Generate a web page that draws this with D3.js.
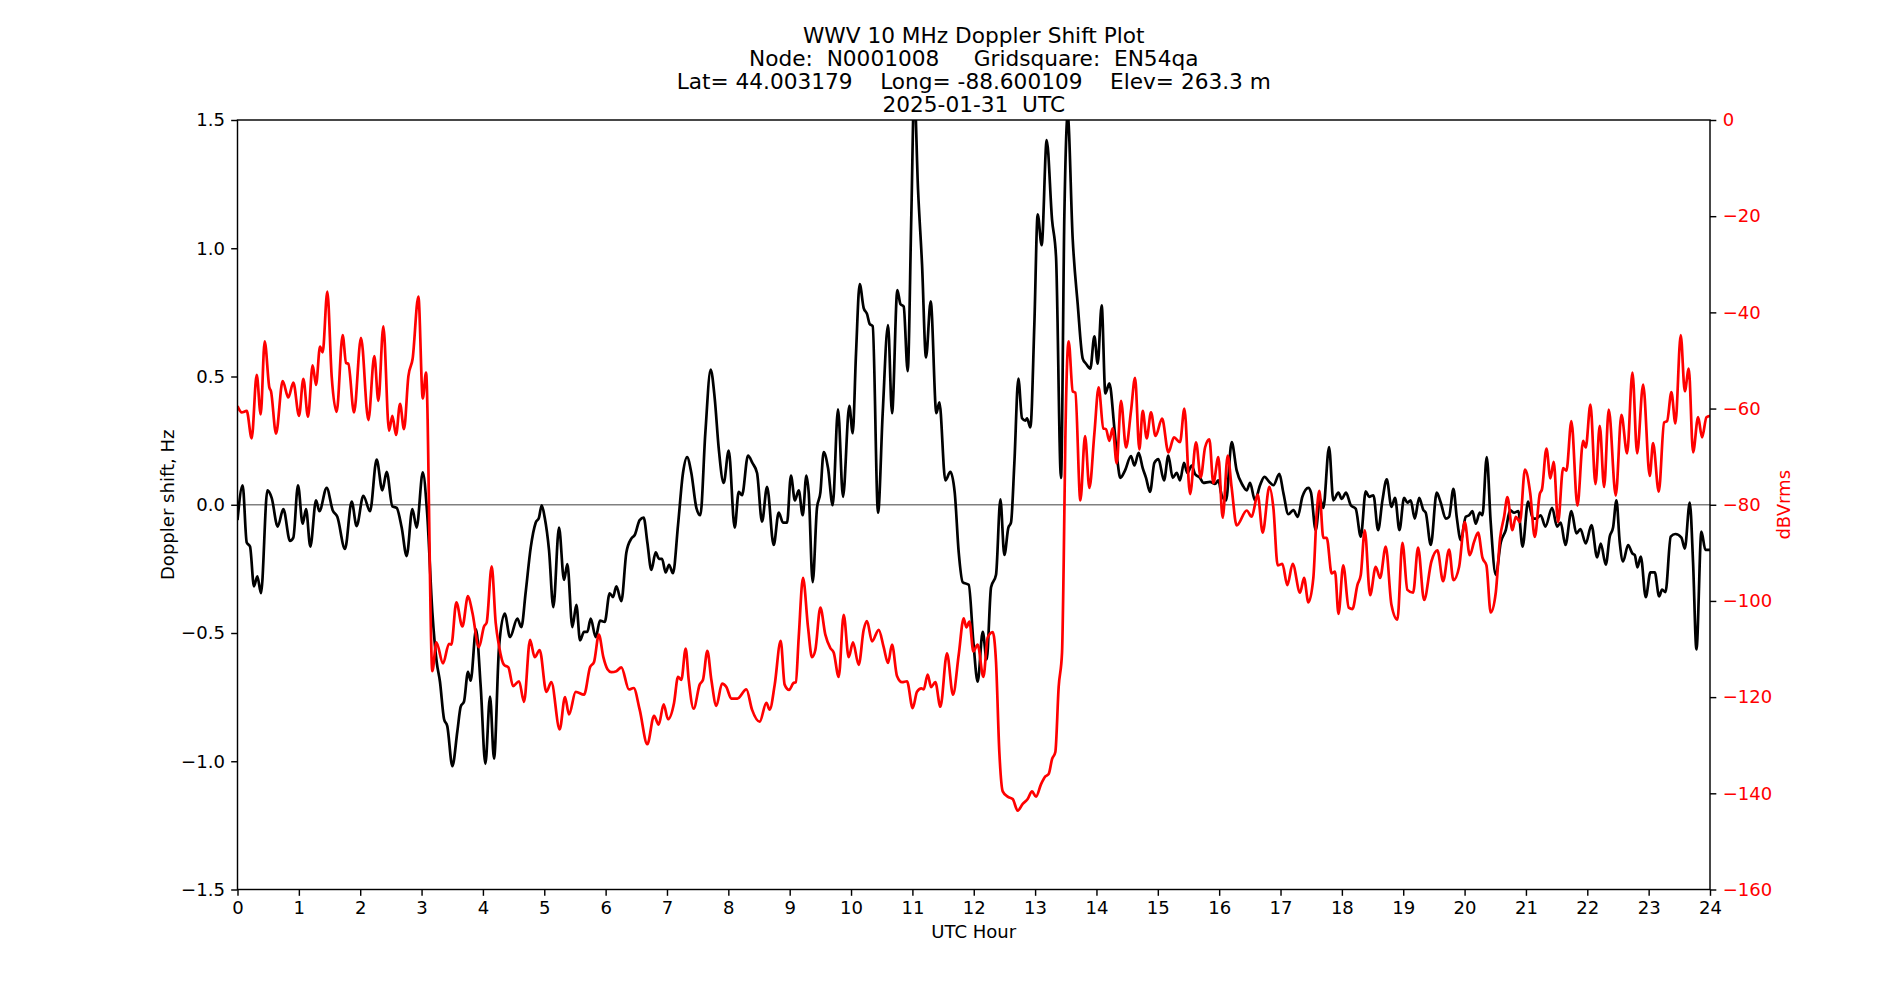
<!DOCTYPE html>
<html>
<head>
<meta charset="utf-8">
<script src="https://cdn.jsdelivr.net/npm/d3@7"></script>
<style>
  html, body { margin: 0; padding: 0; background: #fff; }
  svg { display: block; }
  text { font-family: "DejaVu Sans", sans-serif; }
</style>
</head>
<body>
<svg id="chart" width="1900" height="1000"></svg>
<script>
// ---------------- DATA ----------------
const titleLines = [
  "WWV 10 MHz Doppler Shift Plot",
  "Node:  N0001008     Gridsquare:  EN54qa",
  "Lat= 44.003179    Long= -88.600109    Elev= 263.3 m",
  "2025-01-31  UTC"
];
const xTicks = [0,1,2,3,4,5,6,7,8,9,10,11,12,13,14,15,16,17,18,19,20,21,22,23,24];
const leftTicks = [-1.5,-1.0,-0.5,0.0,0.5,1.0,1.5];
const rightTicks = [0,-20,-40,-60,-80,-100,-120,-140,-160];

// Doppler shift (Hz), black line
const dopplerHours = [
0.00,0.084,0.15,0.204,0.269,0.323,0.383,0.487,0.557,0.655,0.747,0.856,0.91,0.986,1.062,1.117,1.187,1.28,1.334,1.454,
1.551,1.627,1.752,1.861,1.942,2.051,2.16,2.268,2.361,2.431,2.524,2.594,2.676,2.757,2.85,2.92,3.02,3.09,3.176,3.246,
3.30,3.366,3.42,3.502,3.583,3.638,3.692,3.757,3.80,3.888,3.964,4.04,4.116,4.181,4.263,4.355,4.442,4.561,4.626,4.697,
4.779,4.86,4.914,4.958,5.007,5.077,5.148,5.24,5.322,5.376,5.458,5.523,5.583,5.648,5.702,5.757,5.838,5.909,5.985,6.066,
6.12,6.175,6.256,6.338,6.419,6.474,6.555,6.62,6.68,6.745,6.816,6.87,6.919,6.979,7.033,7.098,7.18,7.261,7.327,7.397,
7.479,7.544,7.625,7.712,7.778,7.843,7.924,8.006,8.104,8.169,8.223,8.321,8.392,8.468,8.549,8.631,8.739,8.821,8.892,8.957,
9.02,9.085,9.147,9.212,9.272,9.31,9.375,9.445,9.50,9.554,9.625,9.701,9.788,9.869,9.972,10.027,10.081,10.141,10.206,10.26,
10.304,10.353,10.44,10.516,10.603,10.668,10.755,10.804,10.858,10.923,10.983,11.03,11.092,11.157,11.222,11.298,11.391,11.44,11.537,11.619,
11.69,11.755,11.82,11.918,11.994,12.064,12.146,12.211,12.282,12.363,12.434,12.499,12.564,12.607,12.662,12.727,12.787,12.841,12.868,12.923,
12.988,13.042,13.107,13.189,13.276,13.341,13.422,13.477,13.531,13.613,13.694,13.776,13.83,13.9,13.966,14.02,14.085,14.145,14.21,14.292,
14.346,14.389,14.466,14.563,14.618,14.688,14.754,14.808,14.873,14.944,15.01,15.101,15.172,15.242,15.308,15.362,15.427,15.482,15.552,15.606,
15.688,15.742,15.851,15.932,15.987,16.041,16.112,16.204,16.285,16.383,16.449,16.503,16.584,16.666,16.737,16.818,16.884,16.981,17.046,17.128,
17.209,17.28,17.356,17.454,17.497,17.573,17.644,17.698,17.791,17.861,17.943,17.997,18.068,18.145,18.226,18.308,18.389,18.443,18.514,18.59,
18.661,18.731,18.808,18.867,18.938,19.014,19.068,19.122,19.188,19.259,19.329,19.367,19.449,19.546,19.612,19.693,19.747,19.818,19.873,19.938,
20.019,20.073,20.128,20.182,20.247,20.291,20.361,20.426,20.508,20.59,20.671,20.742,20.807,20.877,20.945,21.035,21.116,21.171,21.241,21.317,
21.426,21.508,21.567,21.643,21.741,21.823,21.888,21.975,22.068,22.16,22.22,22.301,22.366,22.42,22.475,22.529,22.583,22.665,22.736,22.774,
22.817,22.872,22.953,23.029,23.1,23.17,23.219,23.274,23.36,23.436,23.534,23.589,23.67,23.724,23.779,23.86,23.925,24.0
];
const dopplerShift = [
-0.06,0.076,-0.147,-0.163,-0.318,-0.279,-0.345,0.056,0.027,-0.085,-0.017,-0.141,-0.128,0.076,-0.074,-0.017,-0.163,0.017,-0.025,0.066,
-0.021,-0.047,-0.172,0.012,-0.083,0.035,-0.025,0.176,0.056,0.128,-0.006,-0.012,-0.089,-0.2,-0.017,-0.089,0.126,-0.03,-0.419,-0.612,
-0.69,-0.835,-0.864,-1.019,-0.884,-0.787,-0.767,-0.651,-0.686,-0.486,-0.709,-1.01,-0.748,-0.99,-0.554,-0.424,-0.516,-0.444,-0.477,-0.341,
-0.167,-0.07,-0.05,-0.002,-0.05,-0.176,-0.399,-0.089,-0.293,-0.231,-0.477,-0.39,-0.529,-0.496,-0.496,-0.444,-0.516,-0.452,-0.457,-0.345,
-0.36,-0.318,-0.376,-0.186,-0.132,-0.118,-0.06,-0.05,-0.147,-0.254,-0.186,-0.211,-0.211,-0.264,-0.234,-0.267,-0.079,0.124,0.186,0.124,
-0.012,-0.041,0.279,0.527,0.415,0.221,0.085,0.211,-0.089,0.05,0.037,0.192,0.163,0.124,-0.066,0.07,-0.157,-0.031,-0.07,-0.07,
0.114,0.017,0.056,-0.041,0.114,0.047,-0.302,-0.012,0.047,0.205,0.143,-0.002,0.372,0.031,0.386,0.279,0.589,0.86,0.767,0.744,
0.705,0.696,-0.031,0.357,0.7,0.357,0.837,0.783,0.773,0.521,1.132,1.62,1.229,0.938,0.574,0.793,0.357,0.399,0.095,0.128,
0.047,-0.186,-0.302,-0.312,-0.535,-0.69,-0.496,-0.603,-0.322,-0.273,0.021,-0.196,-0.089,-0.07,0.163,0.492,0.337,0.328,0.337,0.302,
0.705,1.132,1.012,1.422,1.112,0.967,0.105,1.132,1.52,1.035,0.783,0.57,0.55,0.531,0.657,0.55,0.777,0.434,0.473,0.298,
0.163,0.105,0.134,0.19,0.153,0.202,0.143,0.105,0.05,0.163,0.178,0.095,0.192,0.105,0.124,0.095,0.163,0.124,0.153,0.12,
0.105,0.085,0.089,0.081,0.095,0.037,0.017,0.244,0.134,0.076,0.056,0.085,0.017,0.076,0.109,0.089,0.076,0.12,0.047,-0.037,
-0.021,-0.047,0.031,0.066,0.047,-0.099,0.021,-0.012,0.225,0.017,0.047,0.023,0.047,-0.002,-0.016,-0.124,0.052,0.031,0.037,-0.099,
0.017,0.099,-0.008,0.027,-0.099,0.027,0.008,0.017,-0.054,0.027,-0.021,-0.031,-0.157,0.047,0.008,-0.054,-0.047,0.062,-0.05,-0.138,
-0.047,-0.041,-0.025,-0.074,-0.031,-0.041,0.186,-0.07,-0.273,-0.147,-0.099,-0.021,-0.031,-0.025,-0.163,0.012,-0.054,-0.054,-0.041,-0.085,
-0.012,-0.085,-0.07,-0.157,-0.025,-0.112,-0.095,-0.151,-0.079,-0.205,-0.151,-0.234,-0.124,-0.089,0.017,-0.147,-0.221,-0.157,-0.19,-0.196,
-0.244,-0.202,-0.36,-0.264,-0.264,-0.357,-0.331,-0.341,-0.124,-0.114,-0.128,-0.171,0.008,-0.225,-0.564,-0.105,-0.176,-0.176
];

// Signal level (dBVrms), red line
const levelHours = [
0.00,0.068,0.15,0.231,0.313,0.378,0.443,0.519,0.546,0.628,0.736,0.829,0.91,1.003,1.073,1.149,1.225,1.28,1.345,1.388,
1.464,1.535,1.616,1.714,1.769,1.807,1.899,2.013,2.133,2.23,2.296,2.377,2.47,2.524,2.584,2.649,2.714,2.785,2.855,2.948,
3.02,3.073,3.176,3.241,3.35,3.447,3.485,3.567,3.665,3.757,3.828,3.936,4.018,4.061,4.143,4.208,4.263,4.344,4.415,4.491,
4.589,4.67,4.768,4.844,4.925,5.034,5.115,5.251,5.338,5.403,5.512,5.648,5.746,5.811,5.89,5.963,6.03,6.093,6.175,6.256,
6.381,6.457,6.555,6.68,6.789,6.865,6.946,7.017,7.115,7.18,7.234,7.305,7.354,7.435,7.533,7.587,7.658,7.723,7.805,7.897,
7.968,8.049,8.147,8.294,8.386,8.511,8.62,8.674,8.756,8.853,8.918,8.99,9.06,9.10,9.147,9.217,9.299,9.364,9.418,9.5,
9.581,9.663,9.717,9.799,9.88,9.962,10.032,10.125,10.206,10.26,10.342,10.451,10.532,10.603,10.668,10.749,10.831,10.912,11.005,11.075,
11.146,11.184,11.249,11.304,11.374,11.456,11.564,11.662,11.755,11.836,11.879,11.93,11.994,12.064,12.157,12.227,12.309,12.363,12.417,12.472,
12.553,12.635,12.716,12.798,12.879,12.95,13.015,13.097,13.167,13.221,13.276,13.33,13.384,13.439,13.466,13.493,13.547,13.613,13.656,13.738,
13.814,13.885,13.966,14.036,14.112,14.156,14.21,14.264,14.33,14.4,14.482,14.563,14.629,14.699,14.754,14.819,14.889,14.962,15.07,15.172,
15.264,15.362,15.433,15.525,15.623,15.699,15.77,15.84,15.905,15.987,16.057,16.139,16.204,16.285,16.449,16.53,16.628,16.709,16.818,16.884,
16.954,17.03,17.111,17.198,17.318,17.383,17.454,17.535,17.59,17.633,17.698,17.753,17.834,17.888,17.945,18.022,18.112,18.172,18.253,18.308,
18.373,18.46,18.552,18.623,18.715,18.808,18.905,18.987,19.068,19.161,19.242,19.34,19.459,19.557,19.65,19.747,19.818,19.911,20.003,20.084,
20.155,20.22,20.291,20.356,20.426,20.508,20.579,20.644,20.698,20.779,20.834,20.902,20.984,21.07,21.144,21.225,21.263,21.334,21.399,21.453,
21.524,21.606,21.66,21.741,21.839,21.932,21.975,22.051,22.133,22.203,22.274,22.35,22.464,22.556,22.649,22.736,22.812,22.91,23.018,23.072,
23.165,23.252,23.301,23.371,23.436,23.523,23.589,23.654,23.724,23.806,23.871,23.942,24.0
];
const levelDb = [
-59.5,-60.8,-60.5,-66.2,-53,-61.2,-46,-55.6,-56.4,-65.2,-54.3,-57.7,-54.6,-61.5,-53.8,-61.7,-51,-55.1,-47.1,-48.3,
-35.7,-53.3,-60.7,-44.7,-50.5,-50.7,-60.8,-45.3,-62.4,-49.1,-58.4,-42.9,-64.6,-61.5,-65.5,-59,-64.3,-53.3,-49.6,-36.7,
-57.9,-52.5,-114.6,-108.6,-113,-108.9,-109.1,-100.3,-105.3,-99,-102.4,-109.6,-105.3,-104.5,-92.8,-104.5,-109.4,-113.3,-113.8,-117.7,
-116.7,-121,-108.1,-111.7,-110.2,-118.9,-116.9,-126.7,-120,-123.6,-118.9,-119.5,-113.8,-112.7,-107,-111.7,-114.2,-114.8,-114.6,-113.8,
-118.4,-118.1,-122.6,-129.8,-123.9,-125.7,-121.5,-124.6,-121.2,-115.8,-116.4,-109.9,-116.4,-122.4,-117.4,-116.4,-110.4,-116.4,-121.8,-117.2,
-117.9,-120.3,-120.3,-118.4,-122.6,-125.1,-121.2,-122.6,-117.4,-108.3,-117.4,-118.5,-117.1,-116.9,-107.6,-95.2,-105.5,-111.7,-110.2,-101.4,
-107,-109.8,-110.7,-115.8,-102.9,-111.7,-108.6,-113.3,-106,-104.2,-108.4,-106,-109.6,-112.9,-109.1,-115.6,-116.9,-116.7,-122.3,-118.9,
-118.2,-118.4,-115.3,-117.9,-116.9,-122,-110.9,-119.5,-111.2,-103.6,-105.5,-104.3,-110.5,-109.1,-115.8,-107.6,-106.5,-112.7,-131.4,-139.6,
-140.7,-141.2,-143.6,-142.2,-141.2,-139.6,-140.7,-138.1,-136.5,-136,-132.9,-131.4,-117.9,-110.7,-92,-66.2,-46,-56.4,-56.7,-79.1,
-65.7,-76.5,-65.2,-55.6,-64.1,-64.3,-66.7,-64.1,-71.4,-58.4,-68.1,-60.5,-53.6,-68.5,-60.5,-66.2,-60.8,-65.7,-62.1,-69.1,
-66,-67,-60,-77.8,-67,-74.3,-68.1,-66.4,-75.5,-70.1,-82.7,-69.8,-76.5,-84.3,-81.2,-82.5,-77.9,-85.8,-76.3,-80.7,
-92.6,-92.3,-96.7,-92.3,-98.3,-95.2,-100.3,-95.2,-81.7,-77.1,-86.9,-86.9,-94.3,-93.9,-102.7,-92.6,-101.4,-101.7,-96.7,-94.6,
-85.3,-98.8,-92.9,-95.2,-88.7,-100.8,-103.9,-87.9,-97.7,-98.3,-88.9,-99.8,-91.8,-89.5,-95.9,-89.3,-95.7,-92.9,-83.6,-90.5,
-87.7,-85.8,-91,-92.6,-102.4,-98.3,-86.9,-82.5,-78.4,-85.3,-82.5,-83.6,-72.7,-77.6,-86.7,-77.8,-76.7,-68.3,-74.5,-71.1,
-83.6,-72.4,-72.9,-62.6,-80.2,-66.7,-68.1,-59.2,-75.7,-63.6,-76.3,-60.2,-78.1,-61.3,-69.3,-52.5,-69.3,-55,-74,-67.2,
-77.3,-62.9,-62.6,-56.6,-63.1,-44.7,-56.4,-51.7,-69.1,-61.8,-66,-61.8,-61.5
];

// ---------------- CHART ----------------
const W = 1900, H = 1000;
const plot = { left: 237.5, right: 1710, top: 120, bottom: 889.5 };
const tickLen = 6.32, tickPad = 6.32;
const fontTick = 18.06;
const fontTitle = 21.67;

const svg = d3.select("#chart");
svg.append("rect").attr("width", W).attr("height", H).attr("fill", "#fff");

const x = d3.scaleLinear().domain([0, 24]).range([plot.left, plot.right]);
const yL = d3.scaleLinear().domain([-1.5, 1.5]).range([plot.bottom, plot.top]);
const yR = d3.scaleLinear().domain([-160, 0]).range([plot.bottom, plot.top]);

svg.append("defs").append("clipPath").attr("id", "plotclip")
  .append("rect")
  .attr("x", plot.left).attr("y", plot.top)
  .attr("width", plot.right - plot.left).attr("height", plot.bottom - plot.top);

const lines = svg.append("g").attr("clip-path", "url(#plotclip)");

// zero reference line
lines.append("line")
  .attr("x1", plot.left).attr("x2", plot.right)
  .attr("y1", yL(0)).attr("y2", yL(0))
  .attr("stroke", "#808080").attr("stroke-width", 1.35);

const blackData = dopplerHours.map((h, i) => [h, dopplerShift[i]]);
const redData = levelHours.map((h, i) => [h, levelDb[i]]);

lines.append("path")
  .datum(blackData)
  .attr("fill", "none").attr("stroke", "#000").attr("stroke-width", 2.7)
  .attr("stroke-linejoin", "round")
  .attr("d", d3.line().x(d => x(d[0])).y(d => yL(d[1])).curve(d3.curveMonotoneX));

lines.append("path")
  .datum(redData)
  .attr("fill", "none").attr("stroke", "#ff0000").attr("stroke-width", 2.7)
  .attr("stroke-linejoin", "round")
  .attr("d", d3.line().x(d => x(d[0])).y(d => yR(d[1])).curve(d3.curveMonotoneX));

// axes
function styleAxis(g, color) {
  g.select(".domain").remove();
  g.selectAll(".tick line").attr("stroke", "#000").attr("stroke-width", 1.44);
  g.selectAll(".tick text")
    .attr("fill", color)
    .attr("font-family", "'DejaVu Sans', sans-serif")
    .attr("font-size", fontTick);
  g.attr("font-family", null).attr("font-size", null);
}

const fmt1 = d3.format(".1f");
const fmt0 = d3.format("d");

const gx = svg.append("g").attr("transform", `translate(0,${plot.bottom})`)
  .call(d3.axisBottom(x).tickValues(xTicks).tickFormat(fmt0).tickSize(tickLen).tickPadding(tickPad));
styleAxis(gx, "#000");
gx.selectAll(".tick text").attr("dy", "0.68em");

const gyL = svg.append("g").attr("transform", `translate(${plot.left},0)`)
  .call(d3.axisLeft(yL).tickValues(leftTicks).tickFormat(fmt1).tickSize(tickLen).tickPadding(tickPad));
styleAxis(gyL, "#000");

const gyR = svg.append("g").attr("transform", `translate(${plot.right},0)`)
  .call(d3.axisRight(yR).tickValues(rightTicks).tickFormat(fmt0).tickSize(tickLen).tickPadding(tickPad));
styleAxis(gyR, "#ff0000");

// spines
svg.append("rect")
  .attr("x", plot.left).attr("y", plot.top)
  .attr("width", plot.right - plot.left).attr("height", plot.bottom - plot.top)
  .attr("fill", "none").attr("stroke", "#000").attr("stroke-width", 1.44);

// axis labels
svg.append("text")
  .attr("x", (plot.left + plot.right) / 2).attr("y", 938)
  .attr("text-anchor", "middle").attr("font-size", fontTick).attr("fill", "#000")
  .text("UTC Hour");

svg.append("text")
  .attr("transform", `translate(173.5,${(plot.top + plot.bottom) / 2}) rotate(-90)`)
  .attr("text-anchor", "middle").attr("font-size", fontTick).attr("fill", "#000")
  .text("Doppler shift, Hz");

svg.append("text")
  .attr("transform", `translate(1789.5,${(plot.top + plot.bottom) / 2}) rotate(-90)`)
  .attr("text-anchor", "middle").attr("font-size", fontTick).attr("fill", "#ff0000")
  .text("dBVrms");

// title
const title = svg.append("g");
titleLines.forEach((t, i) => {
  title.append("text")
    .attr("x", (plot.left + plot.right) / 2)
    .attr("y", 42.5 + i * 23.2)
    .attr("text-anchor", "middle")
    .attr("font-size", fontTitle)
    .attr("fill", "#000")
    .attr("xml:space", "preserve")
    .style("white-space", "pre")
    .text(t);
});
</script>
</body>
</html>
